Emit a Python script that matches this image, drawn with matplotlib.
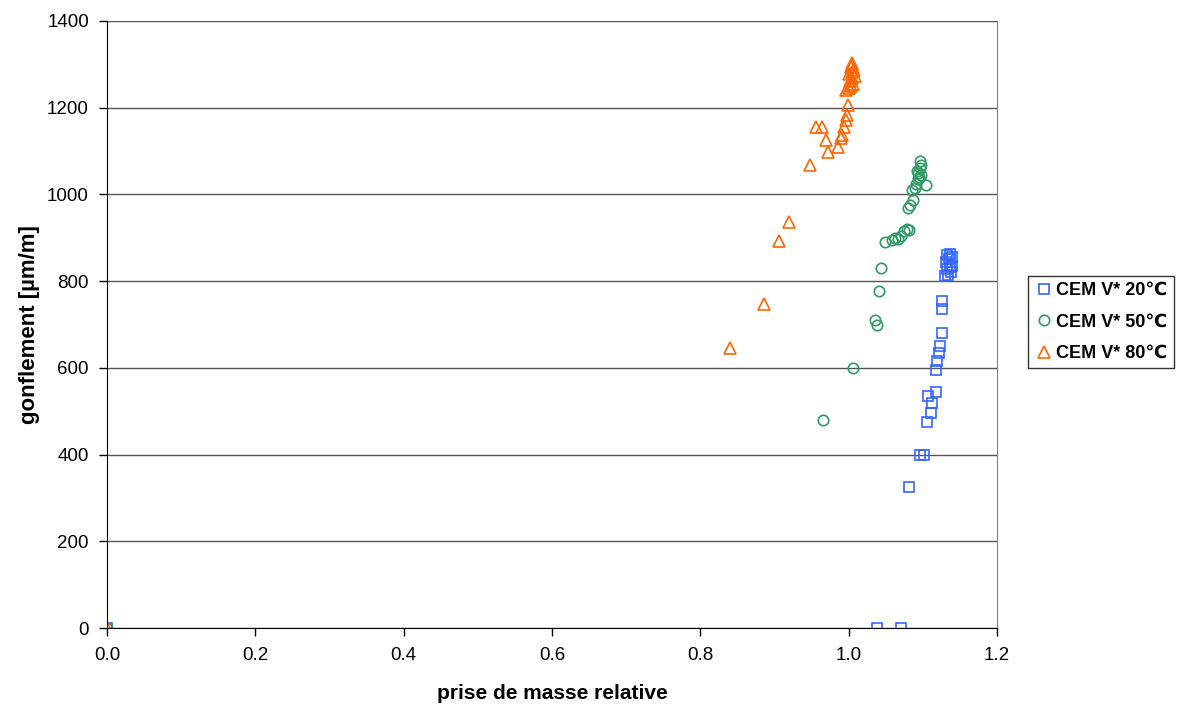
import matplotlib
matplotlib.use("Agg")
import matplotlib.pyplot as plt

plt.rcParams['font.family'] = ['Liberation Sans', 'DejaVu Sans']

# CEM V* 20°C
x20 = [0.0, 1.038, 1.071, 1.081, 1.096, 1.102, 1.105, 1.111, 1.113, 1.107, 1.118,
       1.118, 1.119, 1.122, 1.123, 1.126, 1.126, 1.126,
       1.130, 1.134, 1.138, 1.132, 1.136, 1.140, 1.131, 1.135, 1.139, 1.133, 1.137]
y20 = [0, 0, 0, 325, 399, 399, 475, 495, 519, 535, 544,
       595, 616, 634, 650, 680, 736, 754,
       812, 815, 820, 828, 832, 836, 845, 850, 855, 860, 862]

# CEM V* 50°C
x50 = [0.0, 0.965, 1.006, 1.035, 1.038, 1.041, 1.044, 1.049, 1.058, 1.062, 1.066,
       1.070, 1.074, 1.078, 1.082, 1.080, 1.083, 1.087, 1.085, 1.089,
       1.091, 1.093, 1.095, 1.097, 1.094, 1.104, 1.096, 1.098, 1.092, 1.096]
y50 = [0, 480, 600, 710, 698, 777, 830, 890, 895, 900, 898,
       905, 915, 920, 918, 969, 975, 987, 1010, 1015,
       1025, 1035, 1040, 1045, 1050, 1022, 1060, 1068, 1055, 1077]

# CEM V* 80°C
x80 = [0.0, 0.840, 0.886, 0.906, 0.920, 0.948, 0.956, 0.964, 0.969, 0.972,
       0.986, 0.990, 0.991, 0.994, 0.996, 0.998, 0.999,
       0.997, 1.000, 1.003, 1.006, 1.002, 1.005, 1.008, 1.001, 1.004, 1.007,
       1.003, 1.005, 1.004]
y80 = [0, 646, 747, 893, 936, 1068, 1155, 1155, 1125, 1098,
       1110, 1130, 1137, 1155, 1172, 1183, 1206,
       1240, 1245, 1250, 1255, 1262, 1268, 1272, 1278, 1283, 1288,
       1293, 1298, 1303]

fig = plt.figure(figsize=(11.8, 7.11), dpi=100)
ax = fig.add_axes([0.0907, 0.1167, 0.7542, 0.8538])

ax.plot(x20, y20, linestyle='none', marker='s', markersize=7, markerfacecolor='none',
        markeredgecolor='#3366FF', markeredgewidth=1.2, label='CEM V* 20℃')
ax.plot(x50, y50, linestyle='none', marker='o', markersize=7.5, markerfacecolor='none',
        markeredgecolor='#339966', markeredgewidth=1.2, label='CEM V* 50℃')
ax.plot(x80, y80, linestyle='none', marker='^', markersize=8, markerfacecolor='none',
        markeredgecolor='#FF6600', markeredgewidth=1.2, label='CEM V* 80℃')

ax.set_xlim(0, 1.2)
ax.set_ylim(0, 1400)
ax.set_xticks([0.0, 0.2, 0.4, 0.6, 0.8, 1.0, 1.2])
ax.set_xticklabels(['0.0', '0.2', '0.4', '0.6', '0.8', '1.0', '1.2'])
ax.set_yticks(range(0, 1401, 200))
ax.yaxis.grid(True, color='#555555', linewidth=1)
ax.set_axisbelow(True)

ax.tick_params(labelsize=13.5, direction='out', length=6, width=1)
ax.tick_params(axis='x', pad=8)
ax.tick_params(axis='y', pad=7)
ax.spines['top'].set_visible(False)
ax.spines['right'].set_color('#808080')
ax.spines['left'].set_color('black')
ax.spines['bottom'].set_color('black')

ax.set_xlabel('prise de masse relative', fontsize=15, fontweight='bold', labelpad=14)
ax.set_ylabel('gonflement [µm/m]', fontsize=16, fontweight='bold', labelpad=5)

leg = ax.legend(loc='center left', bbox_to_anchor=(1.035, 0.504), frameon=True, fancybox=False,
                prop={'weight': 'bold', 'size': 13}, handletextpad=0.1, handlelength=1.1,
                borderpad=0.35, labelspacing=0.8, borderaxespad=0)
leg.get_frame().set_edgecolor('black')
leg.get_frame().set_linewidth(1)

fig.savefig('out.png', dpi=100)
